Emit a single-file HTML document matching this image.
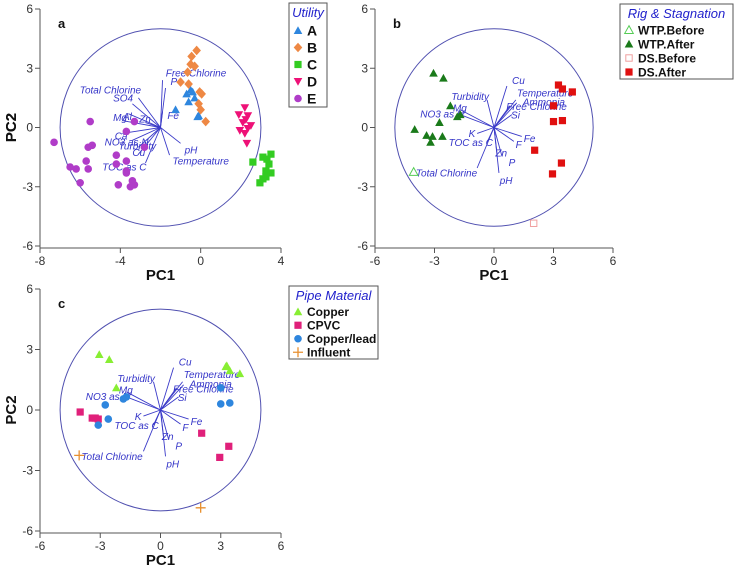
<!DOCTYPE html>
<html><head><meta charset="utf-8"><style>
body{margin:0;background:#fff;}
svg{display:block;font-family:"Liberation Sans",sans-serif;}
.tk{font-size:12px;fill:#333;}
.ld{font-size:10px;font-style:italic;fill:#3535c8;}
</style></head><body>
<svg id="chart" width="735" height="569" viewBox="0 0 735 569"></svg>
<script>
// ---- Panel a data ----
const aA=[[-0.7,1.7],[-0.5,1.9],[-0.3,1.5],[-0.6,1.3],[-0.1,0.6],[-0.15,0.55],[-1.25,0.9],[-0.4,1.8]];
const aB=[[-0.2,3.9],[-0.45,3.6],[-0.5,3.2],[-0.3,3.1],[-0.65,2.8],[-1,2.3],[-0.6,2.2],[-0.05,1.8],[0.05,1.7],[-0.1,1.2],[0,0.9],[0.25,0.3]];
const aC=[[2.6,-1.75],[3.1,-1.5],[3.5,-1.35],[3.4,-1.85],[3.25,-2.2],[3.5,-2.3],[3.1,-2.6],[2.95,-2.8],[3.25,-2.5],[3.3,-1.6]];
const aD=[[2.2,1.0],[1.9,0.65],[2.25,0.4],[2.1,0.25],[1.95,-0.15],[2.35,-0.05],[2.2,-0.3],[2.3,-0.8],[2.5,0.1],[2.35,0.6]];
const aE=[[-7.3,-0.75],[-5.5,0.3],[-5.6,-1.0],[-5.4,-0.9],[-5.7,-1.7],[-5.6,-2.1],[-6.5,-2.0],[-6.2,-2.1],[-6.0,-2.8],[-3.3,0.3],[-3.7,-1.7],[-4.2,-1.85],[-3.7,-2.3],[-3.7,-2.2],[-3.4,-2.7],[-3.5,-3.0],[-3.3,-2.9],[-4.1,-2.9],[-2.8,-1.0],[-4.2,-1.4],[-3.7,-0.2]];
const aLoadEnd=[[0.1,2.4],[0.25,2.0],[0.1,0.8],[1.0,-0.8],[0.45,-1.4],[-1.1,1.5],[-1.4,1.2],[-1.6,0.7],[-1.9,0.35],[-0.75,0.25],[-1.9,-0.3],[-1.4,-0.65],[-1.1,-1.0],[-1.1,-1.35],[-0.75,-1.8]];
const aLoadNames=["Free Chlorine","P","Fe","pH","Temperature","Total Chlorine","SO4","Al","Mg","Zn","Ca","NO3 as N","Turbidity","Cu","TOC as C"];
const aLoadLabel=[[-1.74,2.57],[-1.5,2.15],[-1.66,0.43],[-0.8,-1.31],[-1.4,-1.88],[-6.02,1.72],[-4.36,1.31],[-3.87,0.39],[-4.36,0.34],[-3.06,0.25],[-4.28,-0.6],[-4.78,-0.9],[-4.09,-1.11],[-3.4,-1.45],[-4.9,-2.17]];
// ---- Panels b/c data ----
const bWTPAfter=[[-3.05,2.75],[-2.55,2.5],[-2.2,1.1],[-2.75,0.25],[-4.0,-0.1],[-3.4,-0.4],[-3.1,-0.45],[-3.2,-0.75],[-2.6,-0.45],[-1.7,0.65],[-1.85,0.55]];
const bWTPBefore=[[-4.05,-2.25]];
const bDSBefore=[[2.0,-4.85]];
const bDSAfter=[[3.25,2.15],[3.45,1.95],[3.95,1.8],[3.0,1.1],[3.0,0.3],[3.45,0.35],[2.05,-1.15],[3.4,-1.8],[2.95,-2.35]];
const cCopper=[[-3.05,2.75],[-2.55,2.5],[-2.2,1.1],[3.25,2.15],[3.45,1.95],[3.95,1.8],[3.3,2.2]];
const cCPVC=[[-4.0,-0.1],[-3.4,-0.4],[-3.1,-0.45],[2.05,-1.15],[3.4,-1.8],[2.95,-2.35],[-3.25,-0.4]];
const cCuPb=[[-2.75,0.25],[-3.1,-0.75],[-2.6,-0.45],[3.0,0.3],[3.45,0.35],[3.0,1.1],[-1.7,0.65],[-1.85,0.55]];
const cInfluent=[[-4.05,-2.25],[2.0,-4.85]];
const bLoadNames=["Cu","Temperature","Ammonia","Free Chlorine","Si","Fe","F","P","Zn","pH","Total Chlorine","TOC as C","K","Turbidity","NO3 as N","Mg"];
const bLoadEnd=[[0.65,2.1],[1.1,1.4],[1.15,1.25],[0.8,1.1],[0.9,0.65],[1.4,-0.45],[1.0,-0.7],[0.4,-1.45],[0.15,-1.3],[0.25,-2.3],[-0.85,-2.05],[-0.35,-0.75],[-0.85,-0.3],[-0.35,1.4],[-1.7,0.65],[-1.7,0.9]];
const bLoadLabel=[[0.91,2.2],[1.16,1.58],[1.45,1.11],[0.62,0.88],[0.86,0.45],[1.5,-0.74],[1.09,-1.04],[0.74,-1.95],[0.07,-1.48],[0.29,-2.85],[-3.94,-2.49],[-2.29,-0.94],[-1.28,-0.49],[-2.15,1.38],[-3.72,0.5],[-2.07,0.82]];
const aXTicks=[-8,-4,0,4];
const bXTicks=[-6,-3,0,3,6];
const yTicks=[-6,-3,0,3,6];

const NS="http://www.w3.org/2000/svg";
const svg=document.getElementById('chart');
function mk(tag,attrs,parent,text){const e=document.createElementNS(NS,tag);for(const k in attrs)e.setAttribute(k,attrs[k]);if(text!==undefined)e.textContent=text;(parent||svg).appendChild(e);return e;}

function panel(id,cfg){
  const g=mk('g',{});
  
  
  const sx=v=>cfg.px0+(v-cfg.xmin)/(cfg.xmax-cfg.xmin)*(cfg.px1-cfg.px0);
  const sy=v=>cfg.py0+(6-v)/12*(cfg.py1-cfg.py0);
  const ya=mk('line',{x1:cfg.px0,y1:cfg.py0,x2:cfg.px0,y2:cfg.py1+2,stroke:'#555','stroke-width':1},g);
  
  yTicks.forEach(t=>{mk('line',{x1:cfg.px0-5,x2:cfg.px0,y1:sy(t),y2:sy(t),stroke:'#555'},g);
    const tl=mk('text',{x:cfg.px0-7,y:sy(t)+4,'text-anchor':'end',class:'tk'},g,String(t));
    });
  const xb=cfg.py1+2;
  const xa=mk('line',{x1:cfg.px0,y1:xb,x2:cfg.px1,y2:xb,stroke:'#555'},g);
  
  cfg.xt.forEach(t=>{mk('line',{x1:sx(t),x2:sx(t),y1:xb,y2:xb+5,stroke:'#555'},g);
    const tl=mk('text',{x:sx(t),y:xb+17,'text-anchor':'middle',class:'tk'},g,String(t));
    });
  const xt=mk('text',{x:(cfg.px0+cfg.px1)/2,y:xb+32,'text-anchor':'middle','font-size':15,'font-weight':'bold',fill:'#111'},g,'PC1');
  
  const cy=(cfg.py0+cfg.py1)/2;
  const yt=mk('text',{x:16,y:cy,'text-anchor':'middle','font-size':15,'font-weight':'bold',fill:'#111',transform:`rotate(-90 16 ${cy})`},g,'PC2');
  
  const pl=mk('text',{x:cfg.px0+18,y:cfg.py0+19,'font-size':13,'font-weight':'bold',fill:'#111'},g,id);
  
  const cx0=cfg.cx, r=5;
  const circ=mk('ellipse',{cx:sx(cx0),cy:sy(0),rx:sx(cx0+r)-sx(cx0),ry:sy(0)-sy(r),fill:'none',stroke:'#5050b0','stroke-width':1},g);
  
  cfg.ln.forEach((n,i)=>{const e=cfg.le[i];
    const l=mk('line',{x1:sx(cx0),y1:sy(0),x2:sx(cx0+e[0]),y2:sy(e[1]),stroke:'#3a3ac8','stroke-width':0.9},g);
    
    const p=cfg.ll[i];
    const t=mk('text',{x:sx(p[0]),y:sy(p[1]),class:'ld'},g,n);
    });
  cfg.series.forEach(s=>{s.d.forEach(p=>{
    const m=marker(g,s.m,s.c,sx(p[0]),sy(p[1]));
    
    });});
}
function marker(g,type,c,x,y){
  const s=4.3;
  if(type==='tri') return mk('polygon',{points:`${x},${y-s} ${x-s},${y+s*0.8} ${x+s},${y+s*0.8}`,fill:c},g);
  if(type==='otri') return mk('polygon',{points:`${x},${y-s} ${x-s},${y+s*0.8} ${x+s},${y+s*0.8}`,fill:'none',stroke:c},g);
  if(type==='dtri') return mk('polygon',{points:`${x},${y+s} ${x-s},${y-s*0.8} ${x+s},${y-s*0.8}`,fill:c},g);
  if(type==='dia') return mk('polygon',{points:`${x},${y-s-0.5} ${x+s},${y} ${x},${y+s+0.5} ${x-s},${y}`,fill:c},g);
  if(type==='sq') return mk('rect',{x:x-3.6,y:y-3.6,width:7.2,height:7.2,fill:c},g);
  if(type==='osq') return mk('rect',{x:x-3.2,y:y-3.2,width:6.4,height:6.4,fill:'none',stroke:c},g);
  if(type==='plus') return mk('path',{d:`M${x-5},${y}H${x+5}M${x},${y-5}V${y+5}`,stroke:c,'stroke-width':1.3},g);
  return mk('circle',{cx:x,cy:y,r:3.8,fill:c},g);
}
panel('a',{px0:40,px1:281,xmin:-8,xmax:4,py0:9,py1:246,xt:aXTicks,cx:-2,ln:aLoadNames,le:aLoadEnd,ll:aLoadLabel,
 series:[{n:'A',d:aA,m:'tri',c:'#2e86de'},{n:'B',d:aB,m:'dia',c:'#ee8844'},{n:'C',d:aC,m:'sq',c:'#33cc22'},{n:'D',d:aD,m:'dtri',c:'#ee1177'},{n:'E',d:aE,m:'circ',c:'#b03cc8'}]});
panel('b',{px0:375,px1:613,xmin:-6,xmax:6,py0:9,py1:246,xt:bXTicks,cx:0,ln:bLoadNames,le:bLoadEnd,ll:bLoadLabel,
 series:[{n:'wtp-after',d:bWTPAfter,m:'tri',c:'#1a7a1a'},{n:'wtp-before',d:bWTPBefore,m:'otri',c:'#55cc55'},{n:'ds-before',d:bDSBefore,m:'osq',c:'#f0a0a0'},{n:'ds-after',d:bDSAfter,m:'sq',c:'#e01010'}]});
panel('c',{px0:40,px1:281,xmin:-6,xmax:6,py0:289,py1:531,xt:bXTicks,cx:0,ln:bLoadNames,le:bLoadEnd,ll:bLoadLabel,
 series:[{n:'copper',d:cCopper,m:'tri',c:'#88ee33'},{n:'cpvc',d:cCPVC,m:'sq',c:'#e0207a'},{n:'copper-lead',d:cCuPb,m:'circ',c:'#2e86de'},{n:'influent',d:cInfluent,m:'plus',c:'#e89030'}]});

function legend(name,x,y,w,h,title,tsize,esize,items){
  const g=mk('g',{});
  
  
  mk('rect',{x:x,y:y,width:w,height:h,fill:'#fff',stroke:'#555','stroke-width':1},g);
  const t=mk('text',{x:x+w/2,y:y+tsize+1,'text-anchor':'middle','font-size':tsize,'font-style':'italic',fill:'#2222cc'},g,title);
  
  const step=(h-tsize-6)/items.length;
  items.forEach((it,i)=>{const yy=y+tsize+6+step*(i+0.5);
    const e=mk('g',{},g);
    
    
    marker(e,it[1],it[2],x+9,yy);
    mk('text',{x:x+18,y:yy+esize*0.36,'font-size':esize,'font-weight':'bold',fill:'#111'},e,it[0]);});
}
legend('legend-utility',289,3,38,104,'Utility',13,14,[['A','tri','#2e86de'],['B','dia','#ee8844'],['C','sq','#33cc22'],['D','dtri','#ee1177'],['E','circ','#b03cc8']]);
legend('legend-rig-stagnation',620,4,113,75,'Rig & Stagnation',13,12,[['WTP.Before','otri','#55cc55'],['WTP.After','tri','#1a7a1a'],['DS.Before','osq','#f0a0a0'],['DS.After','sq','#e01010']]);
legend('legend-pipe-material',289,286,89,73,'Pipe Material',13,12,[['Copper','tri','#88ee33'],['CPVC','sq','#e0207a'],['Copper/lead','circ','#2e86de'],['Influent','plus','#e89030']]);
</script>
</body></html>
